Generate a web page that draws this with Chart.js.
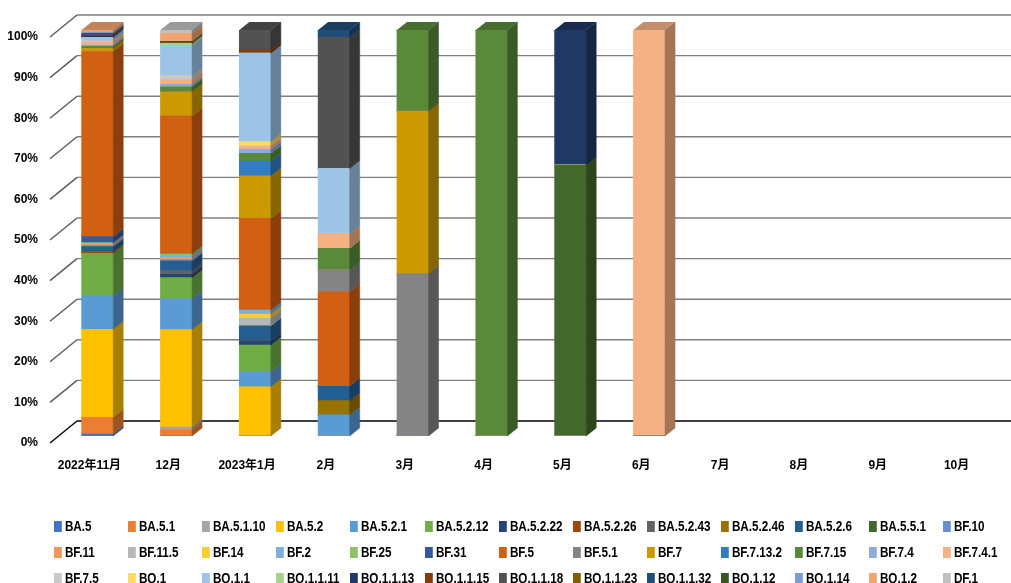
<!DOCTYPE html>
<html>
<head>
<meta charset="utf-8">
<script src="https://cdn.jsdelivr.net/npm/chart.js@4/dist/chart.umd.min.js"></script>
<style>
  html, body { margin: 0; padding: 0; background: #fff; }
  #wrap { position: relative; width: 1011px; height: 583px; overflow: hidden; }
  #chart { position: absolute; left: 0; top: 0; }
  #legend { position: absolute; left: 0; top: 0; width: 1011px; height: 583px; pointer-events: none;
    font: bold 15px 'Liberation Sans', 'Noto Sans CJK SC', sans-serif; color: #000; }
  .item { position: absolute; height: 16px; line-height: 16px; white-space: nowrap;
    transform: scaleX(0.78); transform-origin: 0 50%; }
  .swatch { display: inline-block; width: 10px; height: 11px; margin-right: 4px; vertical-align: -1px; }
</style>
</head>
<body>
<div id="wrap">
  <canvas id="chart" width="1011" height="583"></canvas>
  <div id="legend"></div>
</div>
<script>
// Months on the category axis
const months = ['2022年11月', '12月', '2023年1月', '2月', '3月', '4月', '5月', '6月', '7月', '8月', '9月', '10月'];

// Lineage names, in stacking order (bottom to top)
const lineages = [
  'BA.5', 'BA.5.1', 'BA.5.1.10', 'BA.5.2', 'BA.5.2.1', 'BA.5.2.12', 'BA.5.2.22', 'BA.5.2.26', 'BA.5.2.43', 'BA.5.2.46', 'BA.5.2.6', 'BA.5.5.1', 'BF.10',
  'BF.11', 'BF.11.5', 'BF.14', 'BF.2', 'BF.25', 'BF.31', 'BF.5', 'BF.5.1', 'BF.7', 'BF.7.13.2', 'BF.7.15', 'BF.7.4', 'BF.7.4.1',
  'BF.7.5', 'BQ.1', 'BQ.1.1', 'BQ.1.1.11', 'BQ.1.1.13', 'BQ.1.1.15', 'BQ.1.1.18', 'BQ.1.1.23', 'BQ.1.1.32', 'BQ.1.12', 'BQ.1.14', 'BQ.1.2', 'DF.1'
];

const lineageColors = [
  '#4472C4', '#ED7D31', '#A5A5A5', '#FFC000', '#5B9BD5', '#70AD47', '#264478', '#9E480E', '#636363', '#997300', '#255E91', '#43682B', '#698ED0',
  '#F1975A', '#B7B7B7', '#FFCD33', '#7CAFDD', '#8CC168', '#335AA1', '#D26012', '#848484', '#CC9A00', '#327DC2', '#5A8A39', '#8FAADC', '#F4B183',
  '#C9C9C9', '#FFD966', '#9DC3E6', '#A9D18E', '#203864', '#843C0C', '#525252', '#7F6000', '#1F4E79', '#385723', '#7C9CD6', '#F2A46F', '#C0C0C0'
];

// Share of each lineage per month (%), Nov 2022 .. Jun 2023; later months have no samples
const BA_5       = [0.5, 0, 0, 0, 0, 0, 0, 0];
const BA_5_1     = [4.1, 1.6, 0, 0, 0, 0, 0, 0];
const BA_5_1_10  = [0, 0.6, 0, 0, 0, 0, 0, 0];
const BA_5_2     = [21.7, 24.0, 12.1, 0, 0, 0, 0, 0];
const BA_5_2_1   = [8.2, 7.6, 3.7, 5.2, 0, 0, 0, 0];
const BA_5_2_12  = [10.5, 5.2, 6.6, 0, 0, 0, 0, 0];
const BA_5_2_22  = [0, 0.8, 1.0, 0, 0, 0, 0, 0];
const BA_5_2_26  = [0.4, 0, 0, 0, 0, 0, 0, 0];
const BA_5_2_43  = [0, 0.8, 0, 0, 0, 0, 0, 0];
const BA_5_2_46  = [0, 0, 0, 3.5, 0, 0, 0, 0];
const BA_5_2_6   = [1.2, 2.5, 3.7, 3.6, 0, 0, 0, 0];
const BA_5_5_1   = [0, 0, 0, 0, 0, 0, 66.7, 0];
const BF_10      = [0.3, 0.3, 0, 0, 0, 0, 0, 0];
const BF_11      = [0.4, 0.4, 0, 0, 0, 0, 0, 0];
const BF_11_5    = [0, 0, 1.9, 0, 0, 0, 0, 0];
const BF_14      = [0, 0, 1.0, 0, 0, 0, 0, 0];
const BF_2       = [0.3, 0.5, 1.0, 0, 0, 0, 0, 0];
const BF_25      = [0, 0.6, 0, 0, 0, 0, 0, 0];
const BF_31      = [1.5, 0, 0, 0, 0, 0, 0, 0];
const BF_5       = [45.6, 33.9, 22.6, 23.2, 0, 0, 0, 0];
const BF_5_1     = [0, 0, 0, 5.4, 40, 0, 0, 0];
const BF_7       = [0.8, 6.0, 10.5, 0, 40, 0, 0, 0];
const BF_7_13_2  = [0, 0, 3.6, 0, 0, 0, 0, 0];
const BF_7_15    = [0.5, 1.2, 1.9, 5.3, 20, 100, 0, 0];
const BF_7_4     = [0.3, 0.6, 1.0, 0, 0, 0, 0, 0];
const BF_7_4_1   = [0.8, 1.1, 0.8, 3.7, 0, 0, 0, 100];
const BF_7_5     = [0, 1.0, 0, 0, 0, 0, 0, 0];
const BQ_1       = [0.2, 0, 1.1, 0, 0, 0, 0, 0];
const BQ_1_1     = [0.9, 7.4, 21.8, 16.0, 0, 0, 0, 0];
const BQ_1_1_11  = [0, 0.6, 0, 0, 0, 0, 0, 0];
const BQ_1_1_13  = [0.3, 0, 0, 0, 0, 0, 33.3, 0];
const BQ_1_1_15  = [0.2, 0, 0.8, 0, 0, 0, 0, 0];
const BQ_1_1_18  = [0.2, 0, 4.9, 32.3, 0, 0, 0, 0];
const BQ_1_1_23  = [0, 0.2, 0, 0, 0, 0, 0, 0];
const BQ_1_1_32  = [0, 0, 0, 1.8, 0, 0, 0, 0];
const BQ_1_12    = [0.3, 0.3, 0, 0, 0, 0, 0, 0];
const BQ_1_14    = [0.3, 0, 0, 0, 0, 0, 0, 0];
const BQ_1_2     = [0.5, 2.0, 0, 0, 0, 0, 0, 0];
const DF_1       = [0, 0.8, 0, 0, 0, 0, 0, 0];

const lineageShares = [
  BA_5, BA_5_1, BA_5_1_10, BA_5_2, BA_5_2_1, BA_5_2_12, BA_5_2_22, BA_5_2_26, BA_5_2_43, BA_5_2_46, BA_5_2_6, BA_5_5_1, BF_10,
  BF_11, BF_11_5, BF_14, BF_2, BF_25, BF_31, BF_5, BF_5_1, BF_7, BF_7_13_2, BF_7_15, BF_7_4, BF_7_4_1,
  BF_7_5, BQ_1, BQ_1_1, BQ_1_1_11, BQ_1_1_13, BQ_1_1_15, BQ_1_1_18, BQ_1_1_23, BQ_1_1_32, BQ_1_12, BQ_1_14, BQ_1_2, DF_1
];

const yTicks = [0, 10, 20, 30, 40, 50, 60, 70, 80, 90, 100];

// Depth of the extruded columns and of the back wall
const DEPTH_X = 10, DEPTH_Y = -8;
const WALL_FRONT = { dx: -8, dy: 7 };
const WALL_BACK = { dx: 19, dy: -15 };

function shade(hex, f) {
  const n = parseInt(hex.slice(1), 16);
  const r = Math.round(((n >> 16) & 255) * f);
  const g = Math.round(((n >> 8) & 255) * f);
  const b = Math.round((n & 255) * f);
  return `rgb(${r},${g},${b})`;
}

// Side wall and gridlines drawn on the back plane, behind the columns
const wallPlugin = {
  id: 'wall',
  beforeDatasetsDraw(chart) {
    const { ctx, chartArea, scales } = chart;
    const y = scales.y;
    ctx.save();
    ctx.lineWidth = 1.4;
    yTicks.forEach(v => {
      const py = y.getPixelForValue(v);
      const fx = chartArea.left + WALL_FRONT.dx, fy = py + WALL_FRONT.dy;
      const bx = chartArea.left + WALL_BACK.dx, by = py + WALL_BACK.dy;
      ctx.strokeStyle = v === 0 ? '#000' : '#5a5a5a';
      ctx.beginPath();
      ctx.moveTo(fx, fy);
      ctx.lineTo(bx, by);
      ctx.stroke();
      ctx.strokeStyle = v === 0 ? '#000' : '#7f7f7f';
      ctx.beginPath();
      ctx.moveTo(bx, by);
      ctx.lineTo(chart.width, by);
      ctx.stroke();
    });
    ctx.restore();
  }
};

// Side and top faces that give each stacked column its depth
const depthPlugin = {
  id: 'depth',
  afterDatasetsDraw(chart) {
    const ctx = chart.ctx;
    const tops = {};
    ctx.save();
    chart.data.datasets.forEach((ds, di) => {
      const meta = chart.getDatasetMeta(di);
      meta.data.forEach((bar, i) => {
        const v = ds.data[i];
        if (!v) return;
        const { x, y, base, width } = bar.getProps(['x', 'y', 'base', 'width'], true);
        const r = x + width / 2;
        const c = shade(ds.backgroundColor, 0.66);
        ctx.fillStyle = c;
        ctx.strokeStyle = c;
        ctx.lineWidth = 0.5;
        ctx.beginPath();
        ctx.moveTo(r, y);
        ctx.lineTo(r + DEPTH_X, y + DEPTH_Y);
        ctx.lineTo(r + DEPTH_X, base + DEPTH_Y);
        ctx.lineTo(r, base);
        ctx.closePath();
        ctx.fill();
        ctx.stroke();
        if (!tops[i] || y < tops[i].y) tops[i] = { x, y, width, color: ds.backgroundColor };
      });
    });
    Object.values(tops).forEach(t => {
      const l = t.x - t.width / 2, r = t.x + t.width / 2;
      ctx.fillStyle = shade(t.color, 0.8);
      ctx.beginPath();
      ctx.moveTo(l, t.y);
      ctx.lineTo(l + DEPTH_X, t.y + DEPTH_Y);
      ctx.lineTo(r + DEPTH_X, t.y + DEPTH_Y);
      ctx.lineTo(r, t.y);
      ctx.closePath();
      ctx.fill();
    });
    ctx.restore();
  }
};

const axisFont = { family: "'Liberation Sans', 'Noto Sans CJK SC', sans-serif", size: 12, weight: 'bold' };

const datasets = lineages.map((name, i) => ({
  label: name,
  data: lineageShares[i],
  backgroundColor: lineageColors[i],
  borderWidth: 0,
  barThickness: 31.6
}));

const chart = new Chart(document.getElementById('chart'), {
  type: 'bar',
  data: { labels: months, datasets },
  options: {
    responsive: false,
    animation: false,
    layout: { padding: { top: 30, right: 7, bottom: 102, left: 0 } },
    plugins: { legend: { display: false }, tooltip: { enabled: false } },
    scales: {
      x: {
        stacked: true,
        grid: { display: false, drawTicks: false },
        border: { display: false },
        ticks: { color: '#000', font: axisFont, labelOffset: -8, padding: 22, maxRotation: 0, autoSkip: false },
        afterFit(s) { s.height = 45; }
      },
      y: {
        stacked: true,
        min: 0,
        max: 100,
        grid: { display: false, drawTicks: false },
        border: { display: false },
        ticks: { color: '#000', font: axisFont, stepSize: 10, labelOffset: 7, padding: 20, callback: v => v + '%' },
        afterFit(s) { s.width = 58; }
      }
    }
  },
  plugins: [wallPlugin, depthPlugin]
});

// Legend laid out as a fixed grid of 13 columns
const legendEl = document.getElementById('legend');
const COLS = 13, COL_W = 74.1, ROW_H = 25.9, LEFT = 54, FIRST_ROW = 525.8;
chart.data.datasets.forEach((ds, i) => {
  const item = document.createElement('div');
  item.className = 'item';
  item.style.left = (LEFT + (i % COLS) * COL_W) + 'px';
  item.style.top = (FIRST_ROW + Math.floor(i / COLS) * ROW_H - 8) + 'px';
  const sw = document.createElement('span');
  sw.className = 'swatch';
  sw.style.background = ds.backgroundColor;
  item.appendChild(sw);
  item.appendChild(document.createTextNode(ds.label));
  legendEl.appendChild(item);
});
</script>
</body>
</html>
